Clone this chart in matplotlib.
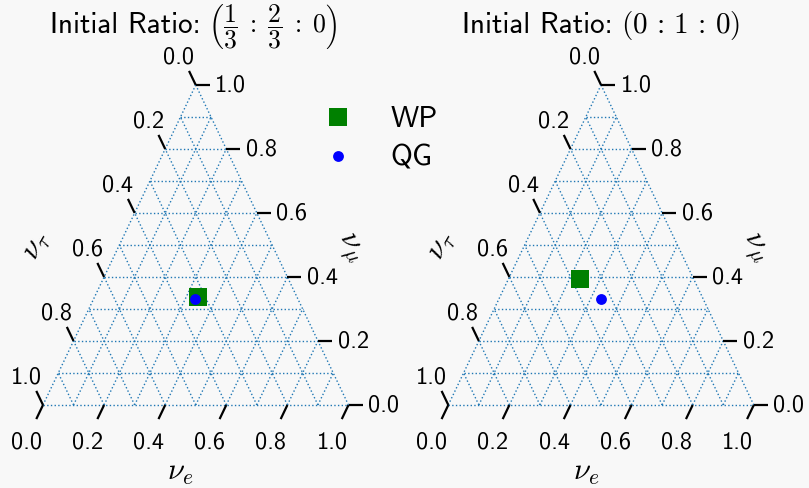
import matplotlib
matplotlib.use("Agg")
import matplotlib.pyplot as plt
from matplotlib.lines import Line2D

plt.rcParams["font.family"] = ["cmss10", "DejaVu Sans"]
plt.rcParams["mathtext.fontset"] = "cm"
plt.rcParams["axes.unicode_minus"] = False

BG = "#f8f8f8"
GRID_C = "#1f77b4"

# panel titles (initial flavour ratio)
title_prefix = "Initial Ratio:"
ratio_math = [r"$\left(\dfrac{1}{3}\;:\;\dfrac{2}{3}\;:\;0\right)$",
              r"$(0\,:\,1\,:\,0)$"]
ratio_fs = [18.5, 21]
# final flavour fractions (nu_e, nu_mu); nu_tau = 1 - e - mu
wp_e = [0.340, 0.235]
wp_mu = [0.337, 0.393]
qg_e = [0.333, 0.334]
qg_mu = [0.330, 0.332]
tick_vals = [0.0, 0.2, 0.4, 0.6, 0.8, 1.0]
grid_vals = [i / 10 for i in range(11)]


def proj(e, mu):
    # x = e + mu/2, y = mu  (axes are stretched to the triangle)
    return e + mu / 2, mu


def draw_triangle(ax):
    kw = dict(color=GRID_C, lw=1.0, ls=":", zorder=1, clip_on=False)
    for v in grid_vals:
        ax.plot([v / 2, 1 - v / 2], [v, v], **kw)                 # const mu
        ax.plot([v, v + (1 - v) / 2], [0, 1 - v], **kw)            # const e
        ax.plot([1 - v, (1 - v) / 2], [0, 1 - v], **kw)            # const tau
    tk = dict(color="black", lw=1.6, zorder=2, clip_on=False, solid_capstyle="butt")
    L = 0.044
    fs = 17.5
    for v in tick_vals:
        lab = f"{v:.1f}"
        # bottom: nu_e
        ax.plot([v, v - L / 2], [0, -L], **tk)
        ax.text(v - 0.054, -0.116, lab, ha="center", va="center", fontsize=fs)
        # right: nu_mu
        x, y = proj(1 - v, v)
        ax.plot([x, x + 0.046], [y, y], **tk)
        ax.text(x + 0.115, y, lab, ha="center", va="center", fontsize=fs)
        # left: nu_tau
        x, y = proj(0, 1 - v)
        ax.plot([x, x - L / 2], [y, y + L], **tk)
        ax.text(x - 0.055, y + 0.085, lab, ha="center", va="center", fontsize=fs)
    ax.text(0.45, -0.215, r"$\nu_e$", ha="center", va="center", fontsize=22)
    ax.text(-0.02, 0.495, r"$\nu_\tau$", ha="center", va="center", fontsize=22, rotation=60)
    ax.text(1.002, 0.49, r"$\nu_\mu$", ha="center", va="center", fontsize=22, rotation=-60)


fig = plt.figure(figsize=(8.09, 4.88), dpi=100)
fig.patch.set_facecolor(BG)
W, H = 809, 488
lefts = [43, 448.3]
title_x = [193.5, 601]
renderer = fig.canvas.get_renderer()
for i in range(2):
    ax = fig.add_axes([lefts[i] / W, (H - 405) / H, 305.5 / W, 320 / H])
    ax.set_xlim(0, 1)
    ax.set_ylim(0, 1)
    ax.axis("off")
    draw_triangle(ax)
    x, y = proj(wp_e[i], wp_mu[i])
    ax.plot([x], [y], "s", color="green", ms=13.5, mew=0, zorder=3, clip_on=False)
    x, y = proj(qg_e[i], qg_mu[i])
    ax.plot([x], [y], "o", color="blue", ms=7.8, mew=0, zorder=4, clip_on=False)

    # title = plain prefix + math ratio, centred together over the triangle
    ty = (H - 33) / H
    t1 = fig.text(0, ty, title_prefix, va="baseline", fontsize=21)
    t2 = fig.text(0, ty, ratio_math[i], va="baseline", fontsize=ratio_fs[i])
    w1 = t1.get_window_extent(renderer).width
    w2 = t2.get_window_extent(renderer).width
    gap = 8
    x0 = title_x[i] - (w1 + gap + w2) / 2
    t1.set_x(x0 / W)
    t2.set_x((x0 + w1 + gap) / W)

handles = [Line2D([], [], ls="none", marker="s", color="green", ms=13.5, mew=0),
           Line2D([], [], ls="none", marker="o", color="blue", ms=7.8, mew=0)]
fig.legend(handles, ["WP", "QG"], loc="center", bbox_to_anchor=(373 / W, 1 - 139 / H),
           frameon=False, fontsize=21.5, handletextpad=0.75, labelspacing=0.4)

fig.savefig("out.png", dpi=100, facecolor=fig.get_facecolor())
